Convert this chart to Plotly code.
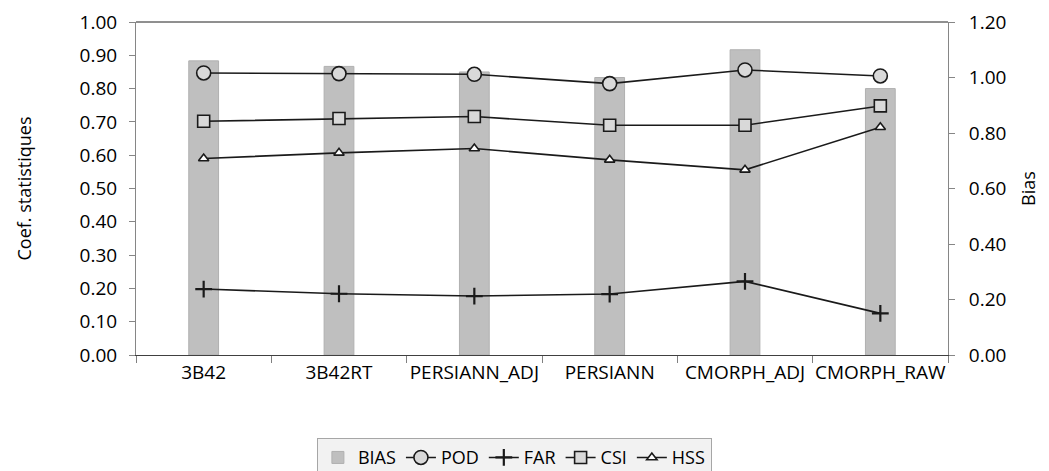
import plotly.graph_objects as go

categories = ["3B42", "3B42RT", "PERSIANN_ADJ", "PERSIANN", "CMORPH_ADJ", "CMORPH_RAW"]
bias = [1.06, 1.04, 1.02, 1.00, 1.10, 0.96]
pod = [0.847, 0.845, 0.843, 0.815, 0.856, 0.838]
far = [0.198, 0.184, 0.177, 0.183, 0.221, 0.125]
csi = [0.702, 0.710, 0.716, 0.690, 0.690, 0.748]
hss = [0.590, 0.607, 0.620, 0.586, 0.556, 0.684]

left_ticks = [i / 10 for i in range(11)]
right_ticks = [i / 5 for i in range(7)]

FONT = "Open Sans"
fig = go.Figure()

fig.add_trace(go.Bar(x=categories, y=bias, name="BIAS", yaxis="y", width=0.22,
                     marker=dict(color="#bfbfbf", line=dict(color="#b0b0b0", width=1))))

line_style = dict(color="#1a1a1a", width=1.6)
fig.add_trace(go.Scatter(x=categories, y=pod, name="POD", mode="lines+markers", yaxis="y2",
                         line=line_style,
                         marker=dict(symbol="circle", size=14, color="#d9d9d9",
                                     line=dict(color="#1a1a1a", width=1.6))))
fig.add_trace(go.Scatter(x=categories, y=far, name="FAR", mode="lines+markers", yaxis="y2",
                         line=line_style,
                         marker=dict(symbol="cross-thin", size=12, color="#1a1a1a",
                                     line=dict(color="#1a1a1a", width=2.2))))
fig.add_trace(go.Scatter(x=categories, y=csi, name="CSI", mode="lines+markers", yaxis="y2",
                         line=line_style,
                         marker=dict(symbol="square", size=12, color="#d9d9d9",
                                     line=dict(color="#1a1a1a", width=1.6))))
fig.add_trace(go.Scatter(x=categories, y=hss, name="HSS", mode="lines+markers", yaxis="y2",
                         line=line_style,
                         marker=dict(symbol="triangle-up", size=9, color="#ffffff",
                                     line=dict(color="#1a1a1a", width=1.6))))

fig.update_layout(
    width=1049, height=471,
    margin=dict(l=128, r=109, t=14, b=124, autoexpand=False),
    paper_bgcolor="white", plot_bgcolor="white",
    font=dict(family=FONT, size=19, color="#000000"),
    showlegend=True,
    legend=dict(orientation="h", x=0.466, xanchor="center", y=-0.25, yanchor="top",
                bgcolor="#f2f2f2", bordercolor="#a6a6a6", borderwidth=1,
                font=dict(size=18), itemwidth=30, traceorder="normal",
                tracegroupgap=0),
    xaxis=dict(type="category", tickson="boundaries", ticks="outside", ticklen=7,
               tickcolor="#808080", showline=True, linecolor="#404040", linewidth=1,
               showgrid=False, tickfont=dict(size=19), automargin=False, tickangle=0),
    yaxis=dict(range=[0, 1.2], tickvals=right_ticks, tickformat=".2f", side="right",
               showline=True, linecolor="#868686", ticks="outside", ticklen=6,
               tickcolor="#868686", showgrid=False, zeroline=False, automargin=False,
               ticklabelstandoff=10, tickfont=dict(size=19), ticklabeloverflow="allow",
               title=dict(text="Bias", standoff=17, font=dict(size=18))),
    yaxis2=dict(range=[0, 1.0], tickvals=left_ticks, tickformat=".2f", side="left",
                overlaying="y", showline=True, linecolor="#868686", ticks="outside",
                ticklen=6, tickcolor="#868686", showgrid=False, zeroline=False,
                automargin=False, ticklabelstandoff=8, tickfont=dict(size=19),
                ticklabeloverflow="allow",
                title=dict(text="Coef. statistiques", standoff=43, font=dict(size=18))),
    shapes=[dict(type="line", xref="paper", yref="paper", x0=0, x1=1, y0=1, y1=1,
                 line=dict(color="#202020", width=1))],
)

fig.write_html("out.html")
